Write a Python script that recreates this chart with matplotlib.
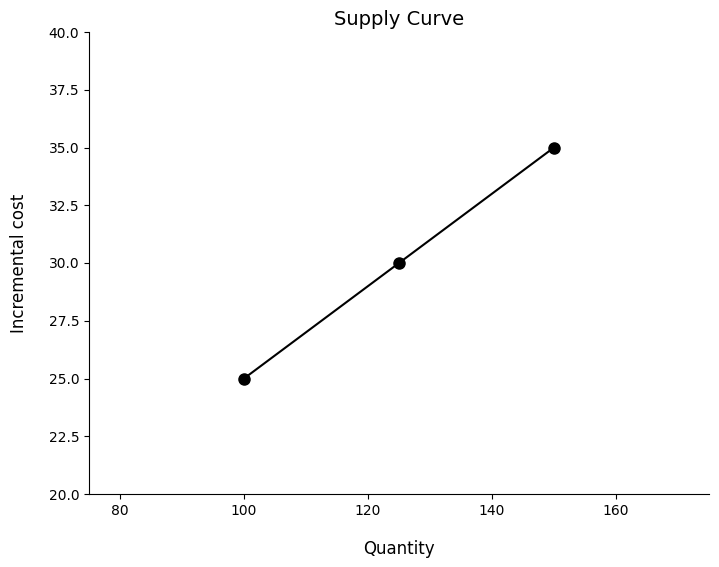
import matplotlib
matplotlib.use('Agg')
import matplotlib.pyplot as plt

quantity = [100, 125, 150]
incremental_cost = [25, 30, 35]

fig = plt.figure(figsize=(7.19, 5.67), dpi=100)
ax = fig.add_axes([89/719, 1-494/567, (709-89)/719, (494-32)/567])

ax.plot(quantity, incremental_cost, color='black', marker='o', markersize=8)

ax.set_xlim(75, 175)
ax.set_ylim(20, 40)
ax.set_xticks([80, 100, 120, 140, 160])
ax.set_yticks([20, 22.5, 25, 27.5, 30, 32.5, 35, 37.5, 40])

ax.spines['top'].set_visible(False)
ax.spines['right'].set_visible(False)

ax.set_title('Supply Curve', fontsize=14, pad=5)
ax.set_xlabel('Quantity', fontsize=12, labelpad=16)
ax.set_ylabel('Incremental cost', fontsize=12, labelpad=15)

fig.savefig('out.png', dpi=100)
